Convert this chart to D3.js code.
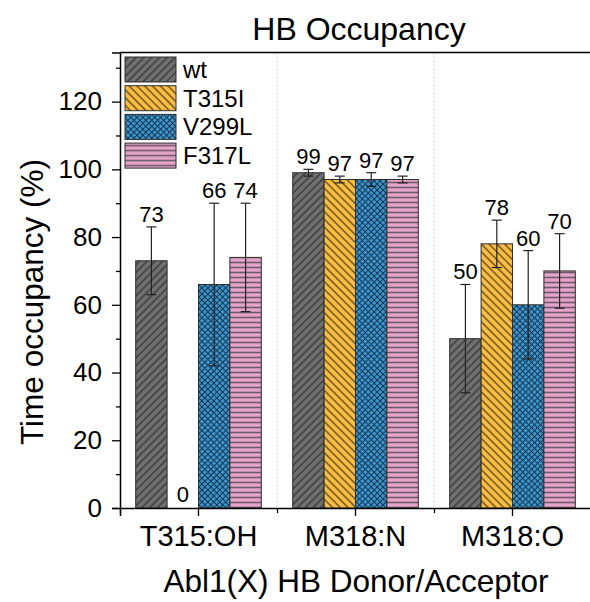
<!DOCTYPE html>
<html>
<head>
<meta charset="utf-8">
<script src="https://cdn.jsdelivr.net/npm/d3@7"></script>
<style>
body{margin:0;background:#fff;}
text{font-family:"Liberation Sans",Arial,sans-serif;fill:#000;}
</style>
</head>
<body>
<div id="vis"></div>
<script>
// data
var categories=["T315:OH","M318:N","M318:O"];
var series=["wt","T315I","V299L","F317L"];
var wtVals=[73,99,50];
var t315iVals=[0,97,78];
var v299lVals=[66,97,60];
var f317lVals=[74,97,70];
var wtErr=[10,1,16];
var t315iErr=[0,1,7];
var v299lErr=[24,2,16];
var f317lErr=[16,1,11];
var yMajor=[0,20,40,60,80,100,120];
var yMinor=[10,30,50,70,90,110,130];

var vals=[wtVals,t315iVals,v299lVals,f317lVals];
var errs=[wtErr,t315iErr,v299lErr,f317lErr];
var rows=[];
series.forEach(function(s,i){
  categories.forEach(function(c,j){
    rows.push({s:s,c:c,v:vals[i][j],e:errs[i][j]});
  });
});

var W=590,H=602;
var pLeft=120,pRight=591,pTop=52.5,pBottom=508;

var svg=d3.select("#vis").append("svg")
.attr("width",W).attr("height",H);

// fill patterns
var defs=svg.append("defs");
function hatch(id,bg,line,gap,angle,cross,lw){
  var p=defs.append("pattern").attr("id",id)
  .attr("patternUnits","userSpaceOnUse")
  .attr("width",gap).attr("height",gap)
  .attr("patternTransform","rotate("+angle+")");
  p.append("rect").attr("width",gap).attr("height",gap).attr("fill",bg);
  p.append("line").attr("x1",gap/2).attr("x2",gap/2).attr("y1",0).attr("y2",gap)
  .attr("stroke",line).attr("stroke-width",lw);
  if(cross){
    p.append("line").attr("y1",gap/2).attr("y2",gap/2).attr("x1",0).attr("x2",gap)
    .attr("stroke",line).attr("stroke-width",lw);
  }
}
hatch("p0","#707070","#363636",5.5,45,false,1.3);
hatch("p1","#fbbd42","#4a3a1c",5.5,-45,false,1.2);
hatch("p2","#3c98cf","#16334d",4.2,45,true,1);
hatch("p3","#e6a4cb","#6e5a68",5,90,false,1.6);
var fills={"wt":"url(#p0)","T315I":"url(#p1)","V299L":"url(#p2)","F317L":"url(#p3)"};

var x=d3.scaleBand().domain(categories).range([pLeft,pRight]);
var xs=d3.scaleBand().domain(series).range([0,x.bandwidth()]).paddingOuter(0.5);
var y=d3.scaleLinear().domain([0,134.5]).range([pBottom,pTop]);

// dashed separators between groups
svg.selectAll(".sep").data(categories.slice(1)).enter().append("line")
.attr("x1",d=>x(d)).attr("x2",d=>x(d))
.attr("y1",pTop).attr("y2",pBottom)
.attr("stroke","#cfcfcf").attr("stroke-dasharray","2,2");

// bars
svg.selectAll(".bar").data(rows).enter().append("rect")
.attr("x",d=>x(d.c)+xs(d.s))
.attr("y",d=>y(d.v))
.attr("width",xs.bandwidth())
.attr("height",d=>pBottom-y(d.v))
.attr("fill",d=>fills[d.s])
.attr("stroke",d=>d.v>0?"#2e2e2e":"none").attr("stroke-width",1);

// error bars
var eb=svg.selectAll(".err").data(rows.filter(d=>d.e>0)).enter().append("g")
.attr("transform",d=>"translate("+(x(d.c)+xs(d.s)+xs.bandwidth()/2)+",0)")
.attr("stroke","#222").attr("stroke-width",1.2);
eb.append("line").attr("y1",d=>y(d.v+d.e)).attr("y2",d=>y(d.v-d.e));
eb.append("line").attr("x1",-5).attr("x2",5).attr("y1",d=>y(d.v+d.e)).attr("y2",d=>y(d.v+d.e));
eb.append("line").attr("x1",-5).attr("x2",5).attr("y1",d=>y(d.v-d.e)).attr("y2",d=>y(d.v-d.e));

// value labels
svg.selectAll(".lab").data(rows).enter().append("text")
.attr("x",d=>x(d.c)+xs(d.s)+xs.bandwidth()/2)
.attr("y",d=>y(d.v+d.e)-(d.v>0?5:6))
.attr("text-anchor","middle")
.attr("font-size",22)
.text(d=>d.v);

// axes
var yAxis=svg.append("g").attr("transform","translate("+pLeft+",0)")
.call(d3.axisLeft(y).tickValues(yMajor).tickSize(8).tickPadding(10));
svg.append("g").attr("transform","translate("+pLeft+",0)")
.call(d3.axisLeft(y).tickValues(yMinor).tickSize(4).tickFormat(""))
.select(".domain").remove();
var xAxis=svg.append("g").attr("transform","translate(0,"+pBottom+")")
.call(d3.axisBottom(x).tickSize(8).tickPadding(9));
svg.append("g").attr("transform","translate(0,"+pBottom+")")
.call(d3.axisBottom(d3.scaleLinear().domain([0,3]).range([pLeft,pRight])).ticks(3).tickSize(5).tickFormat(""))
.select(".domain").remove();
svg.selectAll(".domain").attr("stroke-width",1.5).attr("stroke","#000");
svg.selectAll(".tick line").attr("stroke-width",1.3).attr("stroke","#000");
yAxis.attr("font-family",null).selectAll("text").attr("font-size",26);
xAxis.attr("font-family",null).selectAll("text").attr("font-size",29);

// frame top / right
svg.append("line").attr("x1",pLeft).attr("x2",pRight).attr("y1",pTop).attr("y2",pTop)
.attr("stroke","#000").attr("stroke-width",1.5);
svg.append("line").attr("x1",pRight).attr("x2",pRight).attr("y1",pTop).attr("y2",pBottom)
.attr("stroke","#000").attr("stroke-width",1.5);

// legend
var lg=svg.selectAll(".lg").data(series).enter().append("g")
.attr("transform",(d,i)=>"translate(125,"+(57+i*28.7)+")");
lg.append("rect").attr("width",51).attr("height",25)
.attr("fill",d=>fills[d]).attr("stroke","#2e2e2e").attr("stroke-width",1);
lg.append("text").attr("x",58).attr("y",21).attr("font-size",24).text(d=>d);

// titles
svg.append("text").attr("x",359).attr("y",40).attr("text-anchor","middle")
.attr("font-size",32).text("HB Occupancy");
svg.append("text").attr("x",356).attr("y",592).attr("text-anchor","middle")
.attr("font-size",31.5).text("Abl1(X) HB Donor/Acceptor");
svg.append("text").attr("transform","translate(43,302) rotate(-90)")
.attr("text-anchor","middle").attr("font-size",31.5).text("Time occupancy (%)");
</script>
</body>
</html>
